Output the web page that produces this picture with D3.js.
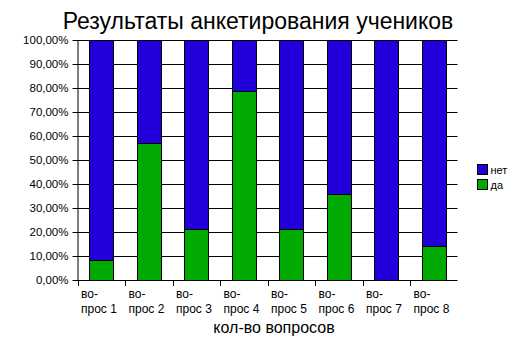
<!DOCTYPE html>
<html><head><meta charset="utf-8">
<script src="https://cdn.jsdelivr.net/npm/d3@7"></script>
<style>body{margin:0;background:#fff}svg{display:block;font-family:"Liberation Sans",Arial,sans-serif}</style>
</head><body><svg id="c" width="525" height="357"></svg>
<script>
const categories = ["вопрос 1","вопрос 2","вопрос 3","вопрос 4","вопрос 5","вопрос 6","вопрос 7","вопрос 8"];
const labelLine1 = ["во-","во-","во-","во-","во-","во-","во-","во-"];
const labelLine2 = ["прос 1","прос 2","прос 3","прос 4","прос 5","прос 6","прос 7","прос 8"];
const da  = [8.5, 57.1, 21.4, 78.6, 21.4, 35.7, 0, 14.3];
const net = [91.5, 42.9, 78.6, 21.4, 78.6, 64.3, 100, 85.7];
const yTicks = [0,10,20,30,40,50,60,70,80,90,100];
const seriesNames = ["нет","да"];
const colors = {"нет":"#2100dc","да":"#00aa00"};

const svg = d3.select("#c");
const L = 77.5, R = 457.5, T = 40, B = 280;
const x = d3.scaleBand().domain(categories).range([L, R]).paddingInner(0.5).paddingOuter(0.25);
const xb = d3.scaleBand().domain(categories).range([L, R]);
const y = d3.scaleLinear().domain([0,100]).range([B, T]);

svg.append("text").attr("x", 258).attr("y", 29).attr("text-anchor","middle")
  .attr("font-size", 23).text("Результаты анкетирования учеников");

// gridlines
svg.append("g").selectAll("line").data(yTicks.filter(d=>d>0)).join("line")
  .attr("x1", L).attr("x2", R).attr("y1", d=>Math.round(y(d))+0.5).attr("y2", d=>Math.round(y(d))+0.5)
  .attr("stroke","#000");

const rows = categories.map((c,i)=>({c, da:da[i], net:net[i]}));
const stack = d3.stack().keys(["да","нет"]).value((d,k)=> k==="да"? d.da : d.net)(rows);
svg.append("g").selectAll("g").data(stack).join("g").attr("fill", s=>colors[s.key])
  .selectAll("rect").data(s=>s).join("rect")
  .attr("x", d=>Math.round(x(d.data.c))+0.5).attr("width", Math.round(x.bandwidth()))
  .attr("y", d=>Math.round(y(d[1]))+0.5).attr("height", d=>Math.max(0, Math.round(y(d[0]))-Math.round(y(d[1]))))
  .attr("stroke", d=> d[1]-d[0] > 0 ? "#000" : "none");

// y axis
const ya = d3.axisLeft(y).tickValues(yTicks).tickSize(5).tickPadding(4)
  .tickFormat(d=>d.toFixed(2).replace(".",",")+"%");
const yg = svg.append("g").attr("transform",`translate(${L},0)`).call(ya);
yg.select(".domain").attr("d", `M0.5,${T}V${B+0.5}`);
yg.selectAll(".tick line").attr("x1",0.5).attr("x2",-5);
yg.selectAll("text").attr("font-size", 11.5).attr("font-family","Liberation Sans, Arial, sans-serif").attr("fill","#000");

// x axis
svg.append("line").attr("x1",L).attr("x2",R).attr("y1",B+0.5).attr("y2",B+0.5).attr("stroke","#000");
const bounds = categories.map(c=>xb(c)).concat([R]);
svg.append("g").selectAll("line").data(bounds.slice(0,-1)).join("line")
  .attr("x1",d=>Math.round(d)+0.5).attr("x2",d=>Math.round(d)+0.5).attr("y1",B).attr("y2",B+6).attr("stroke","#000");
const xl = svg.append("g").selectAll("text").data(categories).join("text")
  .attr("x", d=>xb(d)+3.5).attr("font-size", 12);
xl.append("tspan").attr("y", 298).attr("x", d=>xb(d)+3.5).text((d,i)=>labelLine1[i]);
xl.append("tspan").attr("y", 313).attr("x", d=>xb(d)+3.5).text((d,i)=>labelLine2[i]);

svg.append("text").attr("x", 274).attr("y", 333).attr("text-anchor","middle").attr("font-size", 16).text("кол-во вопросов");

// legend
const lg = svg.append("g").selectAll("g").data(seriesNames).join("g")
  .attr("transform",(d,i)=>`translate(477.5,${164.5+i*15})`);
lg.append("rect").attr("width",10).attr("height",10).attr("fill",d=>colors[d]).attr("stroke","#000");
lg.append("text").attr("x",13).attr("y",9).attr("font-size",11).text(d=>d);
</script></body></html>
